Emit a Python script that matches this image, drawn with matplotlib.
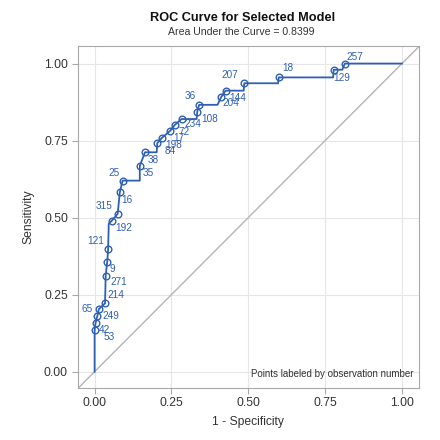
import numpy as np
import matplotlib
matplotlib.use("Agg")
import matplotlib.pyplot as plt

plt.rcParams['font.family'] = ['Liberation Sans', 'DejaVu Sans']

# ROC curve vertices (1 - specificity, sensitivity)
fpr = [0.0, 0.0, 0.003, 0.009, 0.014, 0.034, 0.036, 0.041, 0.044, 0.046, 0.055, 0.075,
       0.082, 0.091, 0.147, 0.147, 0.164, 0.202, 0.204, 0.218, 0.245, 0.261, 0.283,
       0.332, 0.334, 0.340, 0.400, 0.411, 0.426, 0.485, 0.487, 0.597, 0.599, 0.776,
       0.778, 0.806, 0.814, 1.0]
tpr = [0.0, 0.134, 0.157, 0.181, 0.203, 0.222, 0.312, 0.356, 0.399, 0.480, 0.489, 0.512,
       0.582, 0.620, 0.620, 0.668, 0.712, 0.712, 0.742, 0.758, 0.781, 0.801, 0.820,
       0.820, 0.844, 0.866, 0.866, 0.890, 0.912, 0.912, 0.936, 0.936, 0.955, 0.955,
       0.980, 0.980, 1.0, 1.0]

# labeled observations
obs = ['53', '42', '249', '65', '214', '271', '9', '121', '192', '315', '16', '25',
       '35', '38', '84', '198', '17', '72', '234', '108', '36', '204', '144', '207',
       '18', '129', '257']
obs_fpr = [0.0, 0.003, 0.009, 0.014, 0.034, 0.036, 0.041, 0.044, 0.055, 0.075, 0.082,
           0.091, 0.147, 0.164, 0.204, 0.218, 0.245, 0.261, 0.283, 0.334, 0.340, 0.411,
           0.426, 0.487, 0.599, 0.778, 0.814]
obs_tpr = [0.134, 0.157, 0.181, 0.203, 0.222, 0.312, 0.356, 0.399, 0.489, 0.512, 0.582,
           0.620, 0.668, 0.712, 0.742, 0.758, 0.781, 0.801, 0.820, 0.844, 0.866, 0.890,
           0.912, 0.936, 0.955, 0.980, 1.0]

auc = 0.8399
ticks = [0.0, 0.25, 0.5, 0.75, 1.0]

# label offsets in pixels (dx right, dy down)
lab_off = {'53': (15, 7), '42': (9, 7), '249': (13, 0), '65': (-12, 0), '214': (11, -8),
           '271': (13, 6), '9': (5, 7), '121': (-12, -8), '192': (12, 7), '315': (-14, -8),
           '16': (7, 8), '25': (-9, -8), '35': (8, 7), '38': (8, 8), '84': (13, 8),
           '198': (12, 7), '17': (9, 7), '72': (9, 7), '234': (11, 5), '108': (12, 7),
           '36': (-9, -9), '204': (10, 6), '144': (12, 7), '207': (-14, -8), '18': (9, -9),
           '129': (8, 8), '257': (10, -7)}

blue = '#2F5FB3'
fig = plt.figure(figsize=(4.4, 4.4), dpi=100)
ax = fig.add_axes([0.1766, 0.1189, 0.7754, 0.7766])

ax.axline((0, 0), (1, 1), color='#B4B4B4', lw=1.0, zorder=1)
ax.plot(fpr, tpr, color=blue, lw=1.3, zorder=3)
ax.plot(obs_fpr, obs_tpr, 'o', mfc='none', mec=blue, ms=4.8, mew=1.0, zorder=4)
for lab, x, y in zip(obs, obs_fpr, obs_tpr):
    dx, dy = lab_off[lab]
    ax.annotate(lab, (x, y), xytext=(dx * 0.72, -dy * 0.72), textcoords='offset points',
                ha='center', va='center', fontsize=7.2, color=blue)

ax.set_xlim(-0.055, 1.055)
ax.set_ylim(-0.052, 1.057)
ax.set_xticks(ticks)
ax.set_yticks(ticks)
ax.set_xticklabels(['%.2f' % t for t in ticks])
ax.set_yticklabels(['%.2f' % t for t in ticks])
ax.grid(True, color='#E6E6E6', lw=0.8)
ax.set_axisbelow(True)
for s in ax.spines.values():
    s.set_color('#A8A8A8')
ax.tick_params(colors='#A8A8A8', labelcolor='#333333', labelsize=8.7, length=4, pad=3)
ax.set_xlabel('1 - Specificity', fontsize=8.7, color='#333333', labelpad=5)
ax.set_ylabel('Sensitivity', fontsize=8.7, color='#333333', labelpad=7)
ax.text(0.985, 0.025, 'Points labeled by observation number', transform=ax.transAxes,
        ha='right', va='bottom', fontsize=7, color='#333333')

fig.text(0.551, 0.959, 'ROC Curve for Selected Model', ha='center', va='center',
         fontsize=9.2, fontweight='bold', color='#111111')
fig.text(0.549, 0.927, 'Area Under the Curve = %.4f' % auc, ha='center', va='center',
         fontsize=7.6, color='#333333')

fig.savefig('out.png', dpi=100)
